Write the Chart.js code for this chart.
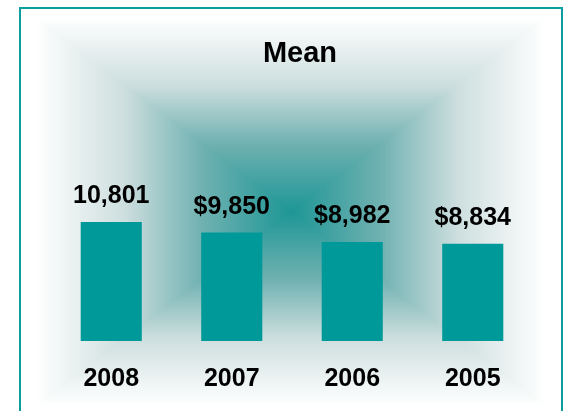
<!DOCTYPE html>
<html>
<head>
<meta charset="utf-8">
<script src="https://cdn.jsdelivr.net/npm/chart.js@4"></script>
<style>
  html, body { margin: 0; padding: 0; background: #fff; }
  #wrap { width: 564px; height: 411px; }
</style>
</head>
<body>
<div id="wrap"><canvas id="myChart"></canvas></div>
<script>
var chartTitle = "Mean";
var years = ["2008", "2007", "2006", "2005"];
var means = [10801, 9850, 8982, 8834];
var valueLabels = ["10,801", "$9,850", "$8,982", "$8,834"];

var fontFamily = "'Liberation Sans', Arial, sans-serif";

// rectangular "from centre" gradient behind the chart, plus the teal frame
var backdrop = {
  id: "backdrop",
  beforeDraw: function(chart) {
    var ctx = chart.ctx;
    var w = chart.width, h = chart.height;
    var img = ctx.createImageData(w, h);
    var cx = 291, cy = 211;
    var hwL = 256, hwR = 254, hh = 194;
    var stops = [
      [0, 30, 150, 150],
      [0.35, 112, 177, 177],
      [0.65, 205, 222, 222],
      [1, 255, 255, 255]
    ];
    for (var y = 0; y < h; y++) {
      for (var x = 0; x < w; x++) {
        var dx = x - cx;
        var tx = Math.abs(dx) / (dx < 0 ? hwL : hwR);
        var ty = Math.abs(y - cy) / hh;
        var t = Math.min(1, Math.max(tx, ty));
        var k = 1;
        while (k < stops.length - 1 && t > stops[k][0]) k++;
        var a = stops[k - 1], b = stops[k];
        var f = (t - a[0]) / (b[0] - a[0]);
        var i = (y * w + x) * 4;
        img.data[i] = a[1] + (b[1] - a[1]) * f;
        img.data[i + 1] = a[2] + (b[2] - a[2]) * f;
        img.data[i + 2] = a[3] + (b[3] - a[3]) * f;
        img.data[i + 3] = 255;
      }
    }
    ctx.putImageData(img, 0, 0);
    ctx.save();
    ctx.strokeStyle = "#0a9e9e";
    ctx.lineWidth = 2;
    ctx.strokeRect(20, 8, 542, 430);
    ctx.fillStyle = "#000";
    ctx.font = "bold 29px " + fontFamily;
    ctx.textAlign = "center";
    ctx.textBaseline = "alphabetic";
    ctx.fillText(chartTitle, 300, 62);
    ctx.restore();
  },
  afterDatasetsDraw: function(chart) {
    var ctx = chart.ctx;
    var meta = chart.getDatasetMeta(0);
    ctx.save();
    ctx.fillStyle = "#000";
    ctx.font = "bold 25px " + fontFamily;
    ctx.textAlign = "center";
    ctx.textBaseline = "alphabetic";
    meta.data.forEach(function(bar, i) {
      ctx.fillText(valueLabels[i], bar.x, bar.y - 19);
    });
    ctx.restore();
  }
};

new Chart("myChart", {
  type: "bar",
  data: {
    labels: years,
    datasets: [{
      data: means,
      backgroundColor: "#009999",
      barPercentage: 0.507,
      categoryPercentage: 1
    }]
  },
  plugins: [backdrop],
  options: {
    responsive: true,
    maintainAspectRatio: false,
    animation: false,
    layout: {
      padding: {left: 51, right: 31, top: 90, bottom: -6}
    },
    plugins: {
      legend: {display: false},
      title: {display: false},
      tooltip: {enabled: false}
    },
    scales: {
      x: {
        grid: {display: false, drawTicks: false},
        border: {display: false},
        ticks: {
          color: "#000",
          padding: 23,
          font: {family: fontFamily, size: 25, weight: "bold"}
        }
      },
      y: {
        display: false,
        min: 0,
        max: 22800
      }
    }
  }
});
</script>
</body>
</html>
